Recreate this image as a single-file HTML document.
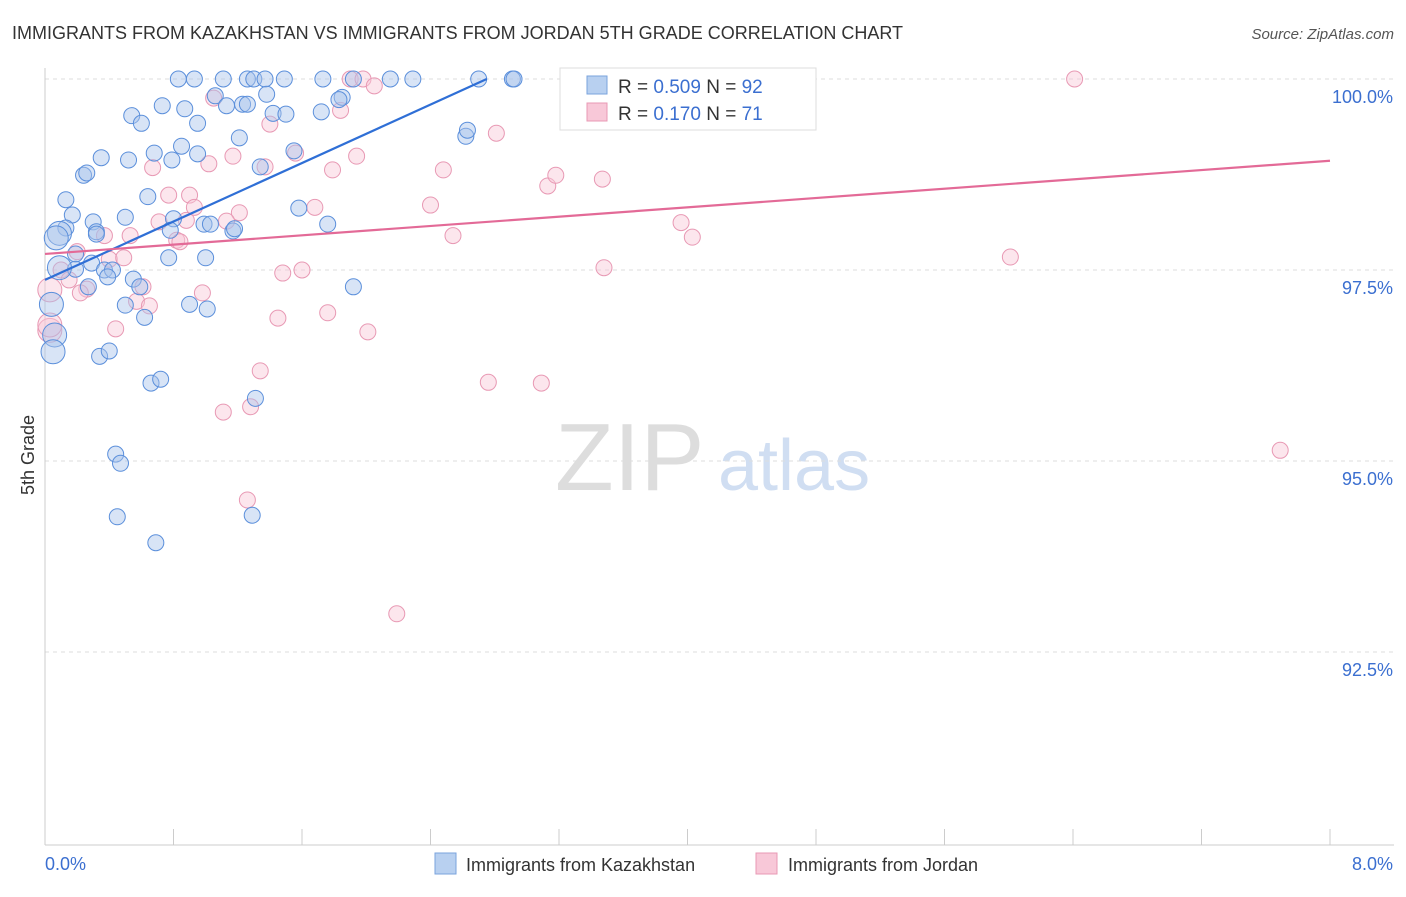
<!DOCTYPE html>
<html><head><meta charset="utf-8"><style>
body{margin:0;background:#fff;font-family:"Liberation Sans",sans-serif;}
svg text{font-family:"Liberation Sans",sans-serif;}
</style></head><body>
<svg id="chart" width="1406" height="892">
<text x="12" y="39" font-size="18" fill="#333">IMMIGRANTS FROM KAZAKHSTAN VS IMMIGRANTS FROM JORDAN 5TH GRADE CORRELATION CHART</text>
<text x="1394" y="39" font-size="15" fill="#555" font-style="italic" text-anchor="end">Source: ZipAtlas.com</text>
<text x="34" y="455" font-size="18" fill="#333" transform="rotate(-90 34 455)" text-anchor="middle">5th Grade</text>
<text x="555" y="490" font-size="96" fill="#ddd" font-family="Liberation Serif">ZIP</text>
<text x="718" y="490" font-size="72" fill="#d0def2">atlas</text>
<g id="grid"></g><g id="axes"></g><g id="pts"></g><g id="lines"></g>
<g>
<rect x="560" y="68" width="256" height="62" fill="#fff" stroke="#ddd"/>
<rect x="587" y="76" width="20" height="18" fill="#b8d0f0" stroke="#7aa3dd"/>
<rect x="587" y="103" width="20" height="18" fill="#f8c8d8" stroke="#e899b4"/>
<text x="618" y="93" font-size="19" fill="#333">R = <tspan fill="#3b6fd0">0.509</tspan>   N = <tspan fill="#3b6fd0">92</tspan></text>
<text x="618" y="120" font-size="19" fill="#333">R =  <tspan fill="#3b6fd0">0.170</tspan>   N =  <tspan fill="#3b6fd0">71</tspan></text>
</g>
<g>
<rect x="435" y="853" width="21" height="21" fill="#b8d0f0" stroke="#7aa3dd"/>
<text x="466" y="871" font-size="18" fill="#333">Immigrants from Kazakhstan</text>
<rect x="756" y="853" width="21" height="21" fill="#f8c8d8" stroke="#e899b4"/>
<text x="788" y="871" font-size="18" fill="#333">Immigrants from Jordan</text>
</g>
</svg>
<script>
const yTicks=[100,97.5,95,92.5];
const yTickLabels=["100.0%","97.5%","95.0%","92.5%"];
const xTickLabels=["0.0%","8.0%"];
const blueX=[0.83,0.93,1.11,1.26,1.30,1.37,1.49,1.73,1.92,2.15,2.29,2.70,2.91,2.92,3.27,
0.54,0.73,0.87,0.60,0.95,1.06,1.13,1.23,1.26,1.38,1.42,1.50,1.72,1.85,1.83,
0.35,0.52,0.68,0.79,0.85,0.95,1.21,1.34,1.55,2.62,2.63,
0.13,0.24,0.26,0.64,0.17,0.30,0.50,0.13,0.09,0.07,0.32,0.32,0.80,0.78,0.99,1.03,1.17,1.18,1.58,1.76,
0.19,0.29,0.37,0.42,0.19,0.09,0.39,0.55,0.77,1.00,0.59,0.27,0.50,0.90,1.01,0.62,0.04,0.06,0.05,0.34,0.40,0.66,0.72,1.31,1.92,
0.44,0.47,0.45,0.69,1.29];
const blueY=[100,100,100,100,100,100,100,100,100,100,100,100,100,100,100,
99.52,99.65,99.61,99.42,99.42,99.78,99.65,99.67,99.67,99.80,99.55,99.54,99.57,99.76,99.73,
98.97,98.94,99.03,98.94,99.12,99.02,99.23,98.85,99.06,99.25,99.33,
98.42,98.74,98.77,98.46,98.22,98.13,98.19,98.05,97.98,97.92,98.00,97.97,98.17,98.02,98.10,98.10,98.01,98.04,98.31,98.10,
97.71,97.59,97.50,97.50,97.51,97.53,97.41,97.38,97.66,97.66,97.28,97.28,97.04,97.05,96.99,96.88,97.05,96.65,96.43,96.37,96.44,96.02,96.07,95.82,97.28,
95.09,94.97,94.27,93.93,94.29];
const pinkX=[1.90,1.98,2.05,3.28,4.33,6.41,3.70,
1.05,1.40,1.84,2.81,1.17,1.02,1.37,1.56,1.79,1.94,2.48,3.13,3.18,3.47,
0.67,0.77,0.90,0.93,1.21,0.71,0.88,1.13,1.68,2.40,3.96,4.03,2.54,
0.53,0.37,0.82,0.84,0.20,0.40,0.49,0.10,0.15,0.26,0.22,0.61,0.57,0.65,0.98,1.48,1.60,3.48,6.01,
0.44,1.45,1.76,2.01,0.03,0.03,0.03,
1.34,1.11,1.28,2.76,3.09,1.26,2.19,7.69];
const pinkY=[100,100,99.91,100,100,100,100,
99.75,99.41,99.59,99.29,98.99,98.89,98.85,99.03,98.81,98.99,98.81,98.60,98.74,98.69,
98.84,98.48,98.48,98.32,98.25,98.13,98.15,98.14,98.32,98.35,98.12,97.93,97.95,
97.95,97.95,97.89,97.87,97.74,97.64,97.66,97.50,97.37,97.25,97.20,97.28,97.09,97.03,97.20,97.46,97.50,97.53,97.67,
96.73,96.87,96.94,96.69,96.71,97.24,96.78,
96.18,95.64,95.71,96.03,96.02,94.49,93.00,95.14];
const blueLine=[[0,97.37],[2.75,100]];
const pinkLine=[[0,97.71],[8,98.93]];
const X0=45,X1=1330,Y0=79,Y1=843;
const sx=v=>X0+(v/8)*(X1-X0);
const sy=v=>Y0+(100-v)/10*(Y1-Y0);
const NS="http://www.w3.org/2000/svg";
function mk(tag,attrs,parent){const e=document.createElementNS(NS,tag);for(const k in attrs)e.setAttribute(k,attrs[k]);parent.appendChild(e);return e;}
const grid=document.getElementById('grid'),axes=document.getElementById('axes'),pts=document.getElementById('pts'),lines=document.getElementById('lines');
yTicks.forEach((t,i)=>{
 const l=mk('line',{x1:X0,x2:1394,y1:sy(t),y2:sy(t),stroke:'#ddd','stroke-dasharray':'4,4'},grid);
 
 
 const tx=mk('text',{x:1393,y:sy(t)+24,'font-size':18,fill:'#3b6fd0','text-anchor':'end'},axes);
 tx.textContent=yTickLabels[i];
 
 
});
const ax=mk('line',{x1:X0,x2:X0,y1:68,y2:Y1+2,stroke:'#ccc'},axes);


const bx=mk('line',{x1:X0,x2:1394,y1:Y1+2,y2:Y1+2,stroke:'#ccc'},axes);


for(let i=0;i<=10;i++){
 const v=i*0.8;
 const t=mk('line',{x1:sx(v),x2:sx(v),y1:Y1-14,y2:Y1+2,stroke:'#ccc'},axes);
 
 
}
[[0,45,'start'],[8,1393,'end']].forEach((a,i)=>{
 const tx=mk('text',{x:a[1],y:870,'font-size':18,fill:'#3b6fd0','text-anchor':a[2]},axes);
 tx.textContent=xTickLabels[i];
 
 
});
function dots(xs,ys,fill,stroke,name){
 xs.forEach((x,i)=>{
  const r=(x<0.1)?12:8;
  const c=mk('circle',{cx:sx(x),cy:sy(ys[i]),r:r,fill:fill,'fill-opacity':0.45,stroke:stroke,'stroke-width':1},pts);
  
  
 });
}
dots(pinkX,pinkY,'#f8c8d8','#e899b4','jordan-point');
dots(blueX,blueY,'#a8c4ec','#5b8fdb','kazakhstan-point');
const bl=mk('line',{x1:sx(blueLine[0][0]),y1:sy(blueLine[0][1]),x2:sx(blueLine[1][0]),y2:sy(blueLine[1][1]),stroke:'#2f6fd6','stroke-width':2.2},lines);


const pl=mk('line',{x1:sx(pinkLine[0][0]),y1:sy(pinkLine[0][1]),x2:sx(pinkLine[1][0]),y2:sy(pinkLine[1][1]),stroke:'#e36a97','stroke-width':2.2},lines);


</script>
</body></html>
